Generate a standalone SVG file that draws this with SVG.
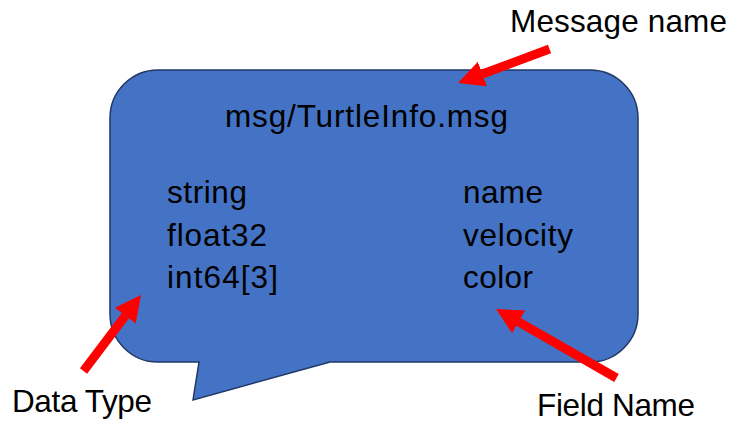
<svg xmlns="http://www.w3.org/2000/svg" width="740" height="438" viewBox="0 0 740 438">
  <defs>
    <style>
      .t { font-family: "Liberation Sans", Arial, sans-serif; font-size: 31.5px; fill: #000000; }
      .bubble { fill: #4472C4; stroke: #203864; stroke-width: 1.5; }
      .arrow { stroke: #FF0000; stroke-width: 9; fill: none; stroke-linecap: butt; }
    </style>
    <marker id="head" markerUnits="userSpaceOnUse" markerWidth="28" markerHeight="28" refX="0" refY="13" orient="auto">
      <path d="M0,0 L26,13 L0,26 Z" fill="#FF0000"/>
    </marker>
  </defs>
  <rect width="740" height="438" fill="#FFFFFF"/>
  <g id="message-bubble">
    <path class="bubble" d="M158,70 H590 A48,48 0 0 1 638,118 V314 A48,48 0 0 1 590,362 H330 L193,400 L199,362 H158 A48,48 0 0 1 110,314 V118 A48,48 0 0 1 158,70 Z"/>
    <text class="t" x="225" y="127" textLength="283">msg/TurtleInfo.msg</text>
    <text class="t" x="167" y="203" textLength="80">string</text>
    <text class="t" x="167" y="246" textLength="100">float32</text>
    <text class="t" x="167" y="288" textLength="111">int64[3]</text>
    <text class="t" x="463" y="203" textLength="80">name</text>
    <text class="t" x="463" y="246" textLength="110">velocity</text>
    <text class="t" x="463" y="288" textLength="70">color</text>
  </g>
  <g id="label-message-name">
    <text class="t" x="510" y="32" textLength="217">Message name</text>
  </g>
  <g id="label-data-type">
    <text class="t" x="12" y="412" textLength="140">Data Type</text>
  </g>
  <g id="label-field-name">
    <text class="t" x="537" y="416" textLength="158">Field Name</text>
  </g>
  <g id="connectors">
    <line class="arrow" x1="549.5" y1="49" x2="482.4" y2="74" marker-end="url(#head)"/>
    <line class="arrow" x1="83.5" y1="371" x2="125.3" y2="315.7" marker-end="url(#head)"/>
    <line class="arrow" x1="616.5" y1="378" x2="518.6" y2="321.9" marker-end="url(#head)"/>
  </g>
</svg>
